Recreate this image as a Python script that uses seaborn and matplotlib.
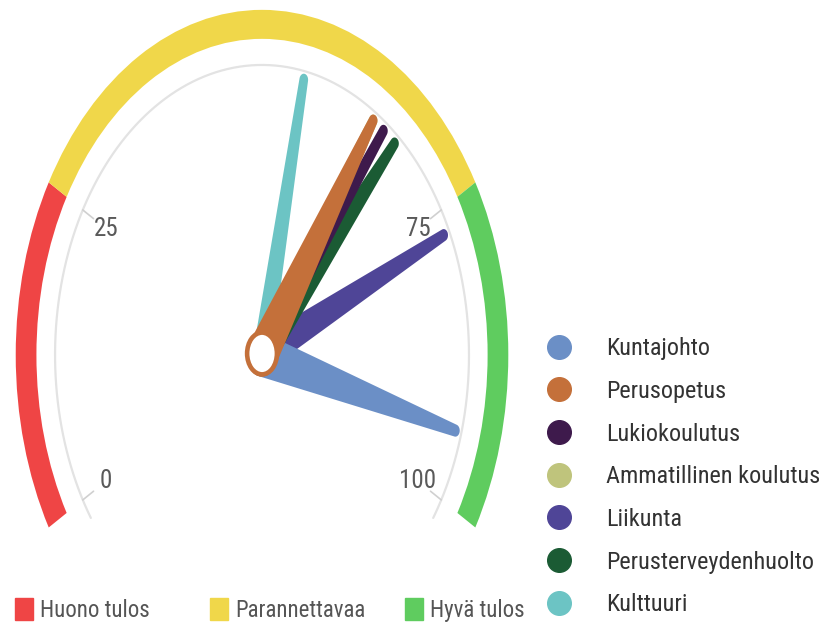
import numpy as np
import matplotlib.pyplot as plt
import matplotlib.patches as mpatches
from matplotlib.lines import Line2D
import seaborn as sns
import pandas as pd

sns.set_theme(style="white")
plt.rcParams['font.family'] = ['Roboto Condensed', 'Liberation Sans', 'DejaVu Sans']

# Mittarin osoittimet (arvo 0-100)
sarjat = ["Kuntajohto", "Perusopetus", "Lukiokoulutus", "Ammatillinen koulutus",
          "Liikunta", "Perusterveydenhuolto", "Kulttuuri"]
arvot = [94, 64, 65.5, 64, 77, 67.2, 55]
varit = ["#6b8fc6", "#c4703a", "#3e1a4c", "#bfc47c", "#4f4597", "#1b5b34", "#6cc4c4"]

# Taustan värialueet
alueet = ["Huono tulos", "Parannettavaa", "Hyvä tulos"]
rajat = [0, 25, 75, 100]
aluevarit = ["#ef4545", "#f0d74a", "#5fcc5f"]

asteikko = [0, 25, 75, 100]

# tyylit: osoittimen tyvileveys ja piirtojärjestys
tyvi = {"Kuntajohto": 0.15, "Perusopetus": 0.15, "Lukiokoulutus": 0.08,
        "Ammatillinen koulutus": 0.12, "Liikunta": 0.12,
        "Perusterveydenhuolto": 0.12, "Kulttuuri": 0.09}
jarjestys = ["Kulttuuri", "Liikunta", "Kuntajohto", "Ammatillinen koulutus",
             "Perusterveydenhuolto", "Lukiokoulutus", "Perusopetus"]
alaselite_x = [15, 210, 405]


def kulma(v):
    return 210 - 2.4 * v


def neula(v, leveys, pituus=0.97, karki=0.042):
    t = np.radians(kulma(v))
    u = np.array([np.cos(t), np.sin(t)])
    n = np.array([-u[1], u[0]])
    tip = u * pituus
    a = np.linspace(-np.pi / 2, np.pi / 2, 20)
    cap = tip + (karki / 2) * (np.cos(a)[:, None] * u + np.sin(a)[:, None] * n)
    b = np.linspace(np.pi / 2, 3 * np.pi / 2, 20)
    back = (leveys / 2) * (np.cos(b)[:, None] * u + np.sin(b)[:, None] * n)
    pts = np.vstack([back[-1:], cap, back])
    return pts[:, 0], pts[:, 1]


fig = plt.figure(figsize=(8.2, 6.22), dpi=100)
ax = fig.add_axes([0, 0, 1, 1])
ax.set_xlim(-1.266, 2.696)
ax.set_ylim(-0.921, 1.224)
ax.axis("off")

# harmaa taustakaari
t = np.radians(np.linspace(214.2, -34.2, 300))
kaari = pd.DataFrame({"x": np.cos(t), "y": np.sin(t)})
sns.lineplot(data=kaari, x="x", y="y", sort=False, color="#e3e3e3", lw=1.6, ax=ax)

# värialueet
for i, (nimi, c) in enumerate(zip(alueet, aluevarit)):
    a1, a2 = kulma(rajat[i + 1]), kulma(rajat[i])
    ax.add_patch(mpatches.Wedge((0, 0), 1.19, a1, a2, width=0.10, color=c, lw=0))

# asteikon merkit
for v in asteikko:
    tt = np.radians(kulma(v))
    ax.plot([0.94 * np.cos(tt), np.cos(tt)], [0.94 * np.sin(tt), np.sin(tt)],
            color="#d0d0d0", lw=1.2)
    ax.text(0.87 * np.cos(tt), 0.87 * np.sin(tt), str(v), ha="center", va="center",
            fontsize=18, color="#5a5a5a")

# osoittimet
for nimi in jarjestys:
    i = sarjat.index(nimi)
    xs, ys = neula(arvot[i], tyvi[nimi])
    ax.fill(xs, ys, color=varit[i], lw=0, zorder=3)

# keskipiste
ax.add_patch(mpatches.Circle((0, 0.005), 0.072, facecolor="white", edgecolor="#c4703a",
                             lw=3.3, zorder=5))

# oikea selite
kahvat = [Line2D([], [], marker="o", ls="", markersize=17, color=c) for c in varit]
fig.legend(kahvat, sarjat, loc="upper left", bbox_to_anchor=(0.640, 0.493),
           frameon=False, handlelength=1.0, handletextpad=1.43,
           labelspacing=0.81, borderpad=0.4, labelcolor="#333333", fontsize=17.5)

# alaselite
for nimi, c, x in zip(alueet, aluevarit, alaselite_x):
    fig.legend([mpatches.Patch(color=c)], [nimi], loc="lower left",
               bbox_to_anchor=(x / 820, 0.0), frameon=False, borderpad=0.0,
               borderaxespad=0.0, fontsize=16.5, handlelength=0.78,
               handleheight=1.08, handletextpad=0.32, labelcolor="#555555")

fig.savefig("out.png", dpi=100)
